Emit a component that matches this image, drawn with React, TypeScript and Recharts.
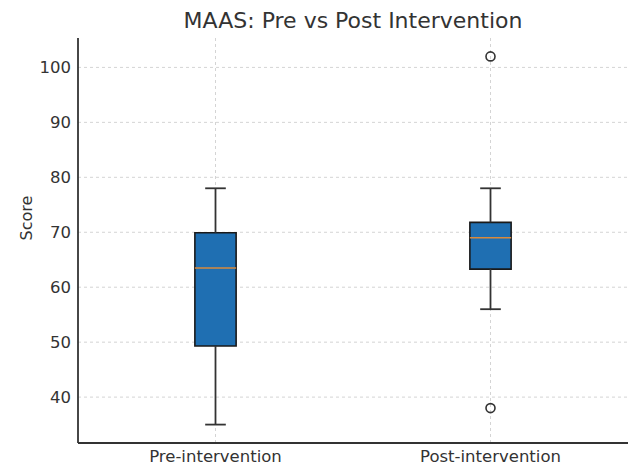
import React from "react";
import {
  ComposedChart,
  XAxis,
  YAxis,
  CartesianGrid,
  ReferenceArea,
  ReferenceLine,
  Scatter,
} from "recharts";

// Box plot stats
const categories = ["Pre-intervention", "Post-intervention"];
const positions = [1, 2];
const whiskerLow = [35, 56];
const q1 = [49.3, 63.3];
const median = [63.5, 69];
const q3 = [69.9, 71.8];
const whiskerHigh = [78, 78];
const outliers = [[], [102, 38]];
const yTicks = [40, 50, 60, 70, 80, 90, 100];

const BOX_HALF = 0.075;
const CAP_HALF = 0.0375;
const INK = "#333333";
const FONT = "'DejaVu Sans', sans-serif";

const outlierData = positions.flatMap((p, i) =>
  outliers[i].map((v) => ({ x: p, y: v }))
);

const HollowDot = (props: any) => (
  <circle cx={props.cx} cy={props.cy} r={4.5} fill="none" stroke={INK} strokeWidth={1.6} />
);

export default function App() {
  return (
    <div style={{ position: "absolute", left: 0, top: 0, width: 630, height: 468, background: "#fff", fontFamily: FONT }}>
      <div
        style={{
          position: "absolute",
          left: 78,
          width: 550,
          top: 8,
          textAlign: "center",
          fontSize: 22,
          color: INK,
        }}
      >
        MAAS: Pre vs Post Intervention
      </div>
      <ComposedChart
        width={630}
        height={468}
        margin={{ top: 38, right: 2, left: 0, bottom: 0 }}
        style={{ fontFamily: FONT }}
      >
        <CartesianGrid
          stroke="#d4d4d4"
          strokeDasharray="3 3"
          horizontalValues={yTicks}
          verticalValues={positions}
        />
        <XAxis
          type="number"
          dataKey="x"
          domain={[0.5, 2.5]}
          ticks={positions}
          allowDataOverflow
          tickFormatter={(v: number) => categories[positions.indexOf(v)]}
          height={25}
          stroke={INK}
          strokeWidth={1.8}
          tick={{ fill: INK, fontSize: 16.5 }}
          tickLine={false}
          tickSize={4}
          tickMargin={3}
        />
        <YAxis
          type="number"
          dataKey="y"
          domain={[31.65, 105.35]}
          ticks={yTicks}
          allowDataOverflow
          width={78}
          stroke={INK}
          strokeWidth={1.8}
          tick={{ fill: INK, fontSize: 16.5 }}
          tickLine={false}
          tickSize={4}
          tickMargin={3}
          label={{ value: "Score", angle: -90, position: "insideLeft", offset: 26, fill: INK, fontSize: 16 }}
        />
        {positions.map((p, i) => (
          <ReferenceLine
            key={`wl-${i}`}
            segment={[{ x: p, y: whiskerLow[i] }, { x: p, y: q1[i] }]}
            stroke={INK}
            strokeWidth={1.8}
          />
        ))}
        {positions.map((p, i) => (
          <ReferenceLine
            key={`wh-${i}`}
            segment={[{ x: p, y: q3[i] }, { x: p, y: whiskerHigh[i] }]}
            stroke={INK}
            strokeWidth={1.8}
          />
        ))}
        {positions.map((p, i) => (
          <ReferenceLine
            key={`cl-${i}`}
            segment={[{ x: p - CAP_HALF, y: whiskerLow[i] }, { x: p + CAP_HALF, y: whiskerLow[i] }]}
            stroke={INK}
            strokeWidth={1.8}
          />
        ))}
        {positions.map((p, i) => (
          <ReferenceLine
            key={`ch-${i}`}
            segment={[{ x: p - CAP_HALF, y: whiskerHigh[i] }, { x: p + CAP_HALF, y: whiskerHigh[i] }]}
            stroke={INK}
            strokeWidth={1.8}
          />
        ))}
        {positions.map((p, i) => (
          <ReferenceArea
            key={`box-${i}`}
            x1={p - BOX_HALF}
            x2={p + BOX_HALF}
            y1={q1[i]}
            y2={q3[i]}
            fill="#1f6fb2"
            fillOpacity={1}
            stroke="#1a1a1a"
            strokeWidth={1.6}
          />
        ))}
        {positions.map((p, i) => (
          <ReferenceLine
            key={`med-${i}`}
            segment={[{ x: p - BOX_HALF, y: median[i] }, { x: p + BOX_HALF, y: median[i] }]}
            stroke="#d98a3c"
            strokeWidth={1.5}
          />
        ))}
        <Scatter data={outlierData} shape={HollowDot} isAnimationActive={false} />
      </ComposedChart>
    </div>
  );
}
